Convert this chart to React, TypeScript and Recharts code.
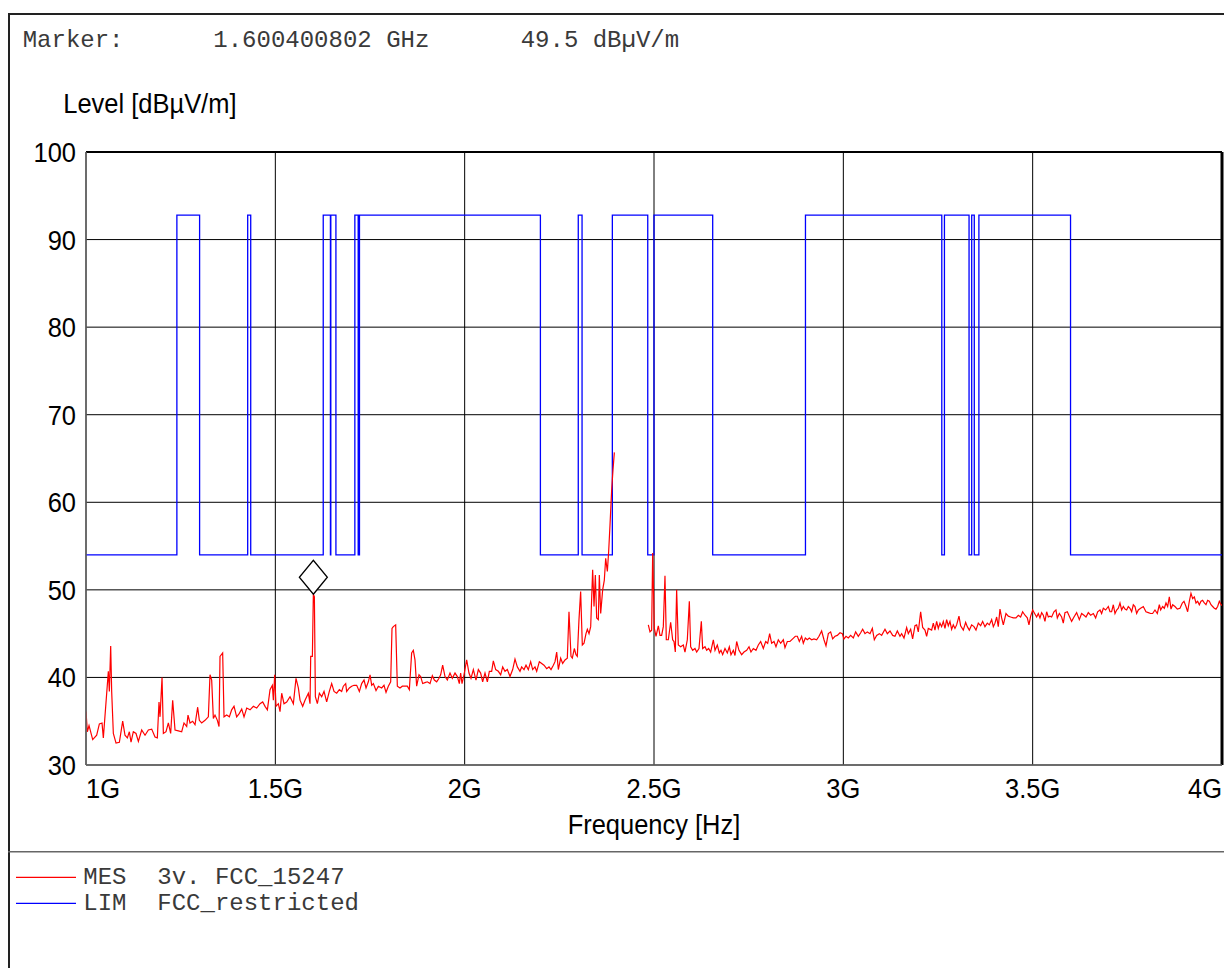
import { CartesianGrid, Line, LineChart, ReferenceDot, ReferenceLine, XAxis, YAxis } from "recharts"

// measured trace (MHz / dBµV/m), null = notch gap around 2.4 GHz band
const measFreq = [
  1000, 1003.6, 1008, 1017.7, 1028.2, 1035.3, 1042.3, 1045.8, 1059, 1061.7, 1065.2, 1067.8, 1072.2, 1079.3, 1088.1,
  1096.9, 1103, 1109.2, 1114.5, 1118.9, 1125, 1132.1, 1138.3, 1147.1, 1155.9, 1164.7, 1173.5, 1182.3, 1188.4, 1192.8,
  1195.5, 1200.8, 1204.3, 1211.3, 1217.5, 1223.6, 1228.9, 1235.1, 1243.9, 1252.7, 1258.8, 1265.9, 1269.4, 1274.7,
  1281.7, 1287.9, 1294.9, 1299.3, 1305.5, 1314.3, 1323.1, 1327.5, 1331.9, 1336.3, 1340.7, 1346.9, 1351.3, 1353.9,
  1360.9, 1364.5, 1371.5, 1378.6, 1384.7, 1390.9, 1397.9, 1405, 1411.2, 1417.3, 1424.4, 1433.2, 1442, 1450.8, 1459.6,
  1466.6, 1472.8, 1479, 1486, 1492.1, 1494.8, 1498.3, 1501.8, 1508, 1512.4, 1516.8, 1522.9, 1530, 1538.8, 1547.6,
  1554.6, 1560.8, 1565.2, 1572.2, 1578.4, 1587.2, 1591.6, 1593.4, 1597.8, 1600.4, 1603.1, 1605.7, 1611, 1616.3,
  1622.4, 1628.6, 1635.6, 1642.6, 1648.8, 1655, 1662, 1669.1, 1675.2, 1679.6, 1685.8, 1688.4, 1695.5, 1701.6, 1707.8,
  1714.8, 1721.9, 1728, 1734.2, 1739.5, 1745.6, 1750.1, 1754.5, 1758.9, 1765.9, 1772.1, 1780.8, 1787, 1792.3, 1798.4,
  1804.6, 1808.1, 1811.6, 1817.8, 1822.2, 1829.2, 1835.4, 1842.4, 1848.6, 1853.9, 1860, 1864.4, 1868.8, 1873.2,
  1879.4, 1883.8, 1889.1, 1895.2, 1901.4, 1908.5, 1914.6, 1919.9, 1926.1, 1932.2, 1936.6, 1941.9, 1948.1, 1954.2,
  1961.3, 1967.4, 1974.5, 1980.6, 1985.9, 1989.4, 1993, 1998.2, 2005.3, 2011.4, 2016.7, 2022.9, 2029.9, 2036.1,
  2042.2, 2047.5, 2053.7, 2059.9, 2065.2, 2071.3, 2075.7, 2081.9, 2088.9, 2095.1, 2100.4, 2106.5, 2112.7, 2119.7,
  2126.8, 2132.9, 2139.1, 2146.1, 2150.5, 2156.7, 2162, 2168.1, 2174.3, 2179.6, 2185.7, 2190.2, 2197.2, 2203.4,
  2209.5, 2216.6, 2222.7, 2228, 2234.2, 2238.6, 2243, 2247.4, 2253.5, 2258.8, 2265, 2271.1, 2275.5, 2280.8, 2284.3,
  2289.6, 2294, 2297.5, 2301.9, 2306.3, 2310.7, 2315.2, 2320.4, 2324, 2328.4, 2332.8, 2338, 2341.6, 2345.1, 2348.6,
  2353, 2355.6, 2359.2, 2364.4, 2368.8, 2372.4, 2376.8, 2380.3, 2383.8, 2388.2, 2391.7, 2395.3, 2440, 2485, 2489.4,
  2493.8, 2496.5, 2500.9, 2505.3, 2511.4, 2515.8, 2520.2, 2524.6, 2529, 2532.5, 2537.8, 2544, 2549.3, 2552.8, 2556.3,
  2559.8, 2564.2, 2570.4, 2577.4, 2581.8, 2588, 2593.3, 2596.8, 2602.1, 2608.2, 2612.7, 2618.8, 2625, 2628.5, 2634.7,
  2639.1, 2644.3, 2649.6, 2656.7, 2661.1, 2667.2, 2672.5, 2676.9, 2681.3, 2687.5, 2693.6, 2698.9, 2703.3, 2709.5,
  2713.9, 2718.3, 2724.4, 2731.5, 2737.6, 2744.7, 2750.9, 2756.1, 2762.3, 2769.3, 2775.5, 2781.7, 2788.7, 2794.9,
  2800.2, 2805.4, 2810.7, 2816.9, 2822.1, 2828.3, 2834.5, 2841.5, 2845.9, 2852.1, 2859.1, 2866.2, 2873.2, 2878.5,
  2883.8, 2889.9, 2894.3, 2899.6, 2904.9, 2910.2, 2916.3, 2922.5, 2929.5, 2935.7, 2942.7, 2948.9, 2954.2, 2960.4,
  2966.5, 2971.8, 2978, 2984.1, 2991.2, 2997.3, 3001.7, 3007, 3013.2, 3019.3, 3026.4, 3032.5, 3039.6, 3045.8, 3051,
  3057.2, 3063.4, 3070.4, 3076.6, 3081.8, 3088, 3095.1, 3101.2, 3110, 3116.2, 3123.2, 3130.3, 3136.4, 3142.6, 3149.6,
  3154, 3160.2, 3167.2, 3171.6, 3177.8, 3183, 3189.2, 3193.6, 3198, 3204.2, 3209.5, 3215.6, 3220, 3224.4, 3233.2,
  3237.6, 3242, 3246.4, 3250.8, 3255.2, 3259.6, 3264, 3268.4, 3272.8, 3277.2, 3281.6, 3286, 3290.4, 3294.8, 3299.2,
  3305.4, 3309.8, 3316.8, 3323, 3327.4, 3332.7, 3338.8, 3345, 3350.3, 3356.4, 3362.6, 3367.9, 3374, 3380.2, 3385.5,
  3391.7, 3396.1, 3400.5, 3404.9, 3409.2, 3413.7, 3418.1, 3422.5, 3429.5, 3435.7, 3441.8, 3448.9, 3455.9, 3462.1,
  3468.2, 3473.5, 3479.7, 3485.8, 3490.2, 3494.7, 3500, 3505.2, 3510.5, 3514.9, 3519.3, 3523.7, 3528.1, 3532.5,
  3536.9, 3541.3, 3545.7, 3550.1, 3556.2, 3561.5, 3565.1, 3570.4, 3576.5, 3580.9, 3585.3, 3591.5, 3596.8, 3602.9,
  3609.1, 3616.1, 3623.2, 3629.3, 3635.5, 3640.8, 3646.9, 3653.1, 3660.2, 3666.3, 3671.6, 3677.8, 3682.1, 3686.6,
  3692.7, 3699.8, 3704.2, 3708.5, 3713, 3717.4, 3721.8, 3726.2, 3730.6, 3735, 3739.4, 3743.8, 3748.2, 3752.6, 3757,
  3761.4, 3765.8, 3770.2, 3774.6, 3779, 3785.1, 3792.2, 3799.2, 3805.4, 3811.6, 3816.8, 3823, 3829.2, 3834.5, 3838,
  3843.2, 3847.7, 3852.1, 3856.5, 3860.9, 3865.3, 3869.7, 3875.8, 3882, 3889, 3895.2, 3899.6, 3904.9, 3909.3, 3913.7,
  3918.1, 3922.5, 3926.9, 3931.3, 3935.7, 3940.1, 3944.5, 3948.9, 3953.3, 3957.7, 3962.1, 3966.5, 3970.9, 3975.3,
  3979.7, 3984.1, 3988.5, 3992.9, 3996.4, 4000,
]

const measLevel = [
  36.1, 33.8, 34.5, 32.9, 33.4, 34.7, 34.8, 33.1, 40.7, 38.4, 43.6, 38.4, 33.6, 32.5, 32.6,
  35.0, 33.4, 33.1, 33.8, 32.6, 33.8, 33.6, 32.7, 34.0, 33.4, 34.0, 34.1, 33.2, 33.1, 37.2,
  35.5, 40.0, 33.6, 33.8, 34.8, 33.6, 37.4, 34.0, 33.9, 33.8, 34.8, 34.4, 35.7, 34.8,
  35.0, 34.6, 36.6, 35.1, 34.8, 35.1, 35.5, 40.3, 39.7, 35.3, 35.7, 35.1, 34.4, 42.4,
  42.8, 35.5, 35.7, 35.5, 36.3, 36.7, 35.5, 35.9, 36.4, 35.5, 36.5, 36.3, 36.7, 36.5, 37.0,
  37.2, 36.7, 36.3, 38.6, 39.1, 37.4, 40.3, 36.7, 37.0, 36.1, 38.2, 37.0, 37.2, 37.8, 37.0,
  39.9, 38.8, 37.4, 36.7, 37.4, 38.2, 37.0, 42.4, 42.4, 49.5, 49.2, 37.8, 37.0, 38.2,
  37.8, 38.4, 37.2, 38.4, 39.3, 38.4, 38.2, 38.6, 38.4, 39.0, 39.3, 38.4, 38.8, 39.0, 39.1,
  39.1, 38.4, 39.3, 39.7, 38.8, 39.5, 40.3, 39.1, 39.3, 38.5, 39.0, 38.8, 39.1, 38.3, 39.0,
  39.5, 45.6, 45.8, 46.0, 39.0, 38.8, 39.0, 39.0, 39.0, 38.6, 42.8, 43.1, 42.0, 39.0,
  40.3, 40.1, 39.3, 39.4, 39.5, 39.3, 40.2, 39.7, 39.5, 39.9, 40.3, 41.4, 40.1, 39.7,
  40.5, 39.9, 40.5, 40.1, 39.3, 40.5, 39.3, 40.3, 42.0, 40.5, 39.9, 40.9, 39.7, 40.9,
  40.5, 39.5, 40.5, 39.5, 40.7, 40.7, 41.9, 40.9, 40.7, 40.3, 41.2, 40.7, 40.9, 40.1,
  40.9, 42.1, 41.2, 40.7, 41.2, 40.9, 41.4, 40.9, 41.8, 40.9, 41.2, 40.7, 41.8, 41.6,
  41.4, 41.0, 41.2, 40.9, 41.4, 41.8, 42.9, 40.9, 42.2, 41.6, 42.0, 42.2, 47.5, 42.4, 42.2,
  43.3, 42.6, 42.4, 46.6, 49.8, 43.7, 43.9, 45.0, 45.5, 45.0, 45.8, 52.3, 48.1, 51.7, 46.8,
  46.6, 51.7, 47.3, 50.0, 51.1, 53.6, 52.1, 54.4, 57.4, 61.4, 63.7, 65.7, null, 46.0, 45.2,
  45.4, 54.2, 45.6, 44.7, 45.9, 44.8, 44.8, 45.8, 51.6, 44.3, 44.3, 46.3, 44.3, 44.1, 42.9,
  50.0, 43.7, 43.5, 43.7, 42.9, 44.3, 48.7, 43.5, 43.1, 43.3, 42.9, 43.3, 46.4, 43.3, 43.5,
  43.1, 43.3, 42.9, 44.3, 43.1, 43.7, 42.8, 43.1, 42.6, 43.3, 42.8, 43.5, 42.6, 43.1,
  42.5, 44.1, 43.1, 42.6, 42.9, 43.1, 43.5, 42.9, 43.3, 43.1, 43.7, 44.1, 43.3, 44.1,
  43.9, 45.0, 43.9, 44.1, 43.5, 44.3, 43.9, 44.3, 43.4, 44.1, 44.1, 44.4, 44.7, 44.7,
  44.1, 44.7, 43.9, 44.5, 44.3, 44.5, 44.3, 44.4, 44.3, 44.7, 45.3, 44.3, 43.6, 45.0,
  45.2, 44.4, 44.7, 44.8, 45.1, 45.0, 44.4, 44.7, 44.5, 44.8, 44.5, 45.2, 44.7, 45.1, 45.5,
  45.0, 45.2, 45.0, 45.6, 44.3, 44.8, 45.0, 44.8, 45.5, 45.0, 45.3, 44.8, 44.7, 45.3, 44.7,
  45.0, 44.5, 45.7, 45.0, 45.5, 44.4, 45.9, 46.0, 45.2, 47.5, 45.7, 45.4, 44.7, 45.6, 45.4,
  46.2, 45.4, 46.4, 45.6, 46.2, 45.8, 46.4, 45.6, 46.6, 45.9, 46.4, 45.5, 46.0, 45.6, 46.0,
  47.0, 45.9, 45.4, 46.3, 45.8, 45.4, 46.0, 45.8, 45.4, 46.2, 45.9, 46.4, 45.8, 46.2, 46.0,
  46.6, 45.8, 46.2, 46.9, 45.8, 47.8, 46.8, 46.0, 47.3, 47.0, 46.9, 46.8, 46.8, 47.1,
  46.9, 47.5, 47.1, 46.8, 46.0, 47.0, 47.7, 47.3, 46.9, 47.3, 46.8, 47.4, 47.1, 46.4,
  47.5, 46.9, 47.0, 46.9, 47.5, 47.7, 46.8, 47.3, 46.9, 46.2, 47.4, 47.5, 47.0, 46.4,
  46.9, 47.4, 46.6, 47.3, 47.1, 46.9, 47.4, 47.1, 47.3, 46.8, 47.5, 47.7, 47.3, 47.9,
  47.7, 48.1, 47.5, 47.5, 48.3, 47.3, 47.7, 47.9, 48.5, 47.7, 48.1, 47.8, 47.7, 48.1, 47.9,
  47.5, 48.3, 48.1, 47.3, 47.7, 47.9, 48.1, 47.5, 47.4, 47.3, 47.3, 47.7, 47.3, 48.3, 47.7,
  48.1, 47.9, 48.5, 48.1, 49.2, 47.8, 48.3, 48.1, 47.8, 47.9, 48.5, 48.7, 48.1, 47.5, 48.7,
  49.6, 49.0, 49.2, 48.5, 48.7, 48.3, 48.7, 48.8, 48.5, 48.3, 48.8, 48.7, 48.3, 48.1,
  47.9, 47.8, 48.1, 48.7, 48.4, 48.2,
]

// FCC 15.205 restricted bands: 54 inside, plotted high outside
const limitFreq = [
  1000, 1240, 1300, 1427, 1435, 1626.5, 1645.5, 1646.5, 1660, 1710, 1718.8, 1722.2, 2200, 2300, 2310, 2390, 2483.5,
  2500, 2655, 2900, 3260, 3267, 3332, 3339, 3345.8, 3358, 3600, 4000,
]
const limitLevel = [
  54, 92.8, 54, 92.8, 54, 92.8, 54, 92.8, 54, 92.8, 54, 92.8, 54, 92.8, 54, 92.8, 54, 92.8, 54, 92.8, 54, 92.8, 54,
  92.8, 54, 92.8, 54, 54,
]

const xTicks = [1000, 1500, 2000, 2500, 3000, 3500, 4000]
const yTicks = [30, 40, 50, 60, 70, 80, 90, 100]

const marker = { freq: 1600.400802, level: 49.5 }

const legendRows = [
  { tag: "MES", name: "3v. FCC_15247", color: "#ff0000" },
  { tag: "LIM", name: "FCC_restricted", color: "#0000ff" },
]

const measData = measFreq.map((f, i) => ({ f, v: measLevel[i] }))
const limitData = limitFreq.map((f, i) => ({ f, v: limitLevel[i] }))

const sansFont = "'Liberation Sans', Arial, sans-serif"
const monoFont = "'Courier New', 'Liberation Mono', monospace"
// the original uses a narrow sans; squeeze the regular one horizontally
const squeeze = 0.91

const fmtFreq = (v: number) => `${v / 1000}G`

function SansText({ x, y, anchor = "start", dy, children }: any) {
  return (
    <g transform={`translate(${x},${y}) scale(${squeeze},1)`}>
      <text x={0} y={0} dy={dy} textAnchor={anchor} fontSize={28} fontFamily={sansFont} fill="#000">
        {children}
      </text>
    </g>
  )
}

function XTick(props: any) {
  const { x, y, payload, index } = props
  const last = index === xTicks.length - 1
  const anchor = index === 0 ? "start" : last ? "end" : "middle"
  return (
    <SansText x={x} y={y} dy="0.71em" anchor={anchor}>
      {fmtFreq(payload.value)}
    </SansText>
  )
}

function YTick(props: any) {
  const { x, y, payload } = props
  return (
    <SansText x={x} y={y} dy="0.355em" anchor="end">
      {payload.value}
    </SansText>
  )
}

function Diamond(props: any) {
  const { cx, cy } = props
  const pts = `${cx},${cy} ${cx + 14},${cy - 17} ${cx},${cy - 34} ${cx - 14},${cy - 17}`
  return <polygon points={pts} fill="#fff" stroke="#000" strokeWidth={1.3} />
}

export default function App() {
  return (
    <div
      style={{
        marginTop: 5,
        marginBottom: -8,
        width: 1224,
        height: 963,
        overflow: "hidden",
        position: "relative",
        background: "#fff",
      }}
    >
      <div style={{ position: "absolute", left: 0, top: 0 }}>
        <LineChart width={1224} height={860} margin={{ top: 139, right: 10, left: 18, bottom: 78 }}>
          <CartesianGrid stroke="#000" strokeWidth={1} />
          <XAxis
            dataKey="f"
            type="number"
            domain={[1000, 4000]}
            ticks={xTicks}
            interval={0}
            allowDataOverflow
            tickSize={0}
            tickMargin={13}
            tick={<XTick />}
            axisLine={{ stroke: "#666", strokeWidth: 1.5 }}
            height={30}
          />
          <YAxis
            type="number"
            domain={[30, 100]}
            ticks={yTicks}
            interval={0}
            allowDataOverflow
            tickSize={0}
            tickMargin={10}
            tick={<YTick />}
            axisLine={{ stroke: "#666", strokeWidth: 1.5 }}
            width={60}
          />
          <ReferenceLine y={100} stroke="#000" strokeWidth={2} />
          <ReferenceLine x={4000} stroke="#000" strokeWidth={3} />
          <Line
            data={limitData}
            dataKey="v"
            type="stepAfter"
            stroke="#0000ff"
            strokeWidth={1.3}
            dot={false}
            activeDot={false}
            isAnimationActive={false}
          />
          <Line
            data={measData}
            dataKey="v"
            type="linear"
            stroke="#ff0000"
            strokeWidth={1.2}
            dot={false}
            activeDot={false}
            connectNulls={false}
            isAnimationActive={false}
          />
          <ReferenceDot x={marker.freq} y={marker.level} shape={<Diamond />} />
        </LineChart>
      </div>

      <svg width={1224} height={963} style={{ position: "absolute", left: 0, top: 0, pointerEvents: "none" }}>
        <line x1={1} y1={0} x2={1} y2={963} stroke="#222" strokeWidth={2} />
        <line x1={0} y1={1} x2={1224} y2={1} stroke="#222" strokeWidth={2} />
        <line x1={0} y1={838.7} x2={1224} y2={838.7} stroke="#666" strokeWidth={1.5} />

        <g fontFamily={monoFont} fontSize={24} fill="#3a3a3a">
          <text x={14.7} y={33.7}>Marker:</text>
          <text x={205.3} y={33.7}>{`${(marker.freq / 1000).toFixed(9)} GHz`}</text>
          <text x={512.7} y={33.7}>{`${marker.level} dBµV/m`}</text>
        </g>

        <SansText x={55.3} y={100.3}>Level [dBµV/m]</SansText>
        <SansText x={646} y={821} anchor="middle">
          Frequency [Hz]
        </SansText>

        {legendRows.map((r, i) => (
          <g key={r.tag} fontFamily={monoFont} fontSize={24} fill="#3a3a3a">
            <line x1={8} y1={864.3 + i * 26} x2={68} y2={864.3 + i * 26} stroke={r.color} strokeWidth={1.2} />
            <text x={75.3} y={871 + i * 26}>{r.tag}</text>
            <text x={149.3} y={871 + i * 26}>{r.name}</text>
          </g>
        ))}
      </svg>
    </div>
  )
}
